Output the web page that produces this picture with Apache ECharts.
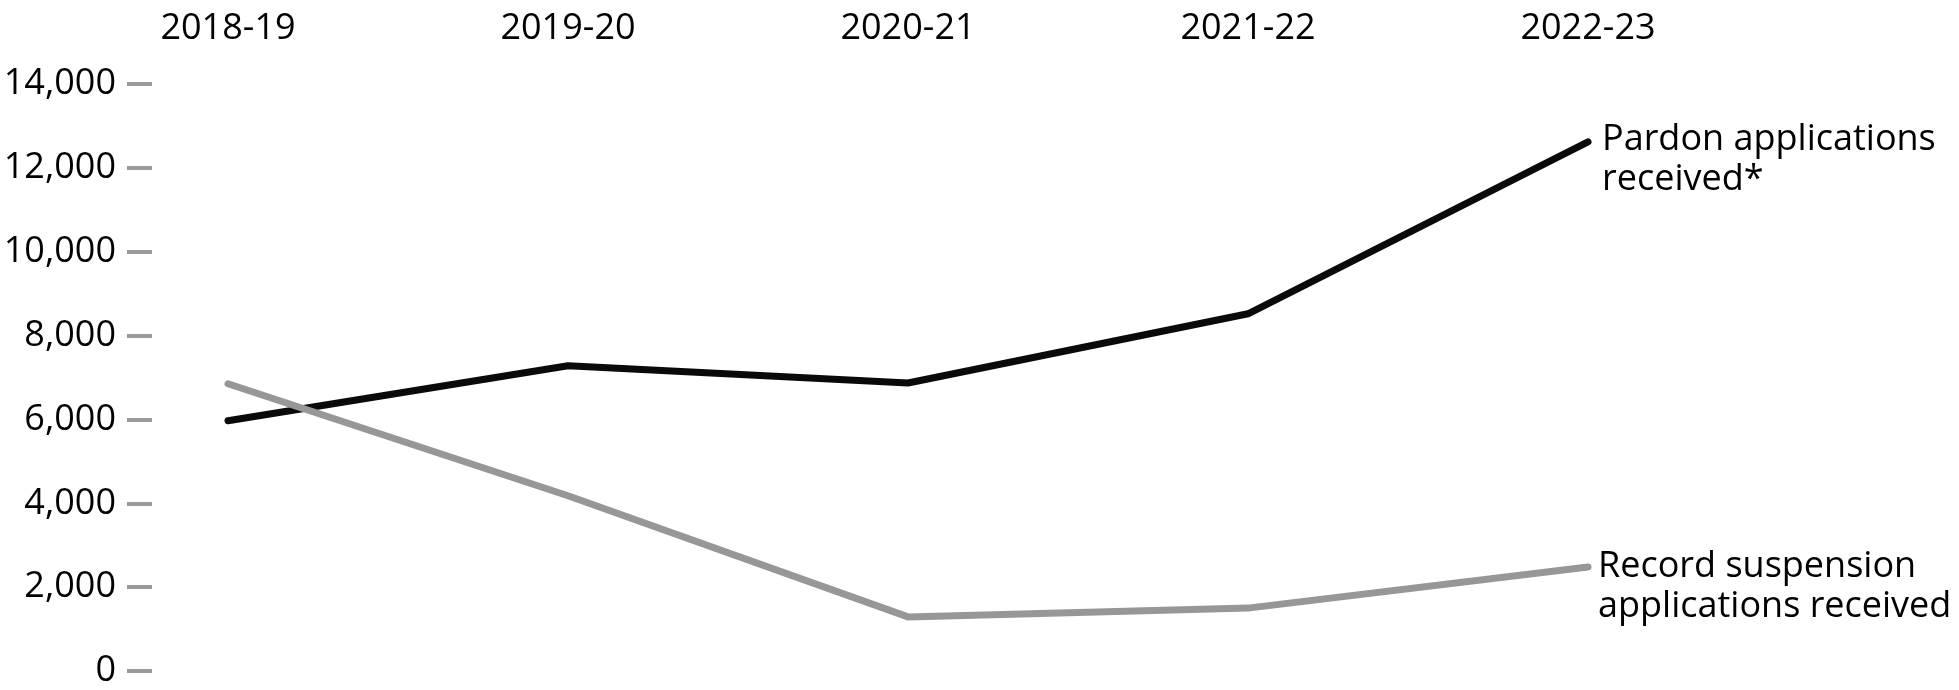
<!DOCTYPE html>
<html>
<head>
<meta charset="utf-8">
<script src="https://cdn.jsdelivr.net/npm/echarts@6/dist/echarts.min.js"></script>
<style>
  html, body { margin: 0; padding: 0; background: #fff; }
  #chart { width: 1959px; height: 690px; }
</style>
</head>
<body>
<div id="chart"></div>
<script>
const years = ['2018-19', '2019-20', '2020-21', '2021-22', '2022-23']
const pardonReceived = [5970, 7280, 6870, 8520, 12620]
const recordSuspension = [6850, 4180, 1290, 1500, 2480]
const yTicks = [0, 2000, 4000, 6000, 8000, 10000, 12000, 14000]

const font = '"Open Sans", "Noto Sans", sans-serif'

const chart = echarts.init(document.getElementById('chart'))

chart.setOption({
  animation: false,
  backgroundColor: '#ffffff',
  textStyle: { fontFamily: font },
  grid: { left: 228, right: 371, top: 84, bottom: 19 },
  xAxis: {
    type: 'category',
    position: 'top',
    boundaryGap: false,
    data: years,
    axisLine: { show: false },
    axisTick: { show: false },
    axisLabel: { color: '#000', fontSize: 36, fontFamily: font, margin: 37 }
  },
  yAxis: {
    type: 'value',
    min: yTicks[0],
    max: yTicks[yTicks.length - 1],
    interval: 2000,
    offset: 76,
    splitLine: { show: false },
    axisLine: { show: false },
    axisTick: { show: true, length: 25, lineStyle: { color: '#9a9a9a', width: 4 } },
    axisLabel: {
      color: '#000',
      fontSize: 36,
      fontFamily: font,
      margin: 36,
      formatter: v => v.toLocaleString('en-US')
    }
  },
  series: [
    {
      name: 'Pardon applications received*',
      type: 'line',
      data: pardonReceived,
      symbol: 'none',
      lineStyle: { color: '#0a0a0a', width: 7, cap: 'round', join: 'round' },
      endLabel: {
        show: true,
        formatter: 'Pardon applications\nreceived*',
        color: '#000',
        fontSize: 36,
        fontFamily: font,
        lineHeight: 40,
        align: 'left',
        verticalAlign: 'top',
        distance: 14,
        offset: [0, -22]
      }
    },
    {
      name: 'Record suspension applications received',
      type: 'line',
      data: recordSuspension,
      symbol: 'none',
      lineStyle: { color: '#979797', width: 7, cap: 'round', join: 'round' },
      endLabel: {
        show: true,
        formatter: 'Record suspension\napplications received',
        color: '#000',
        fontSize: 36,
        fontFamily: font,
        lineHeight: 40,
        align: 'left',
        verticalAlign: 'top',
        distance: 10,
        offset: [0, -20]
      }
    }
  ]
})
</script>
</body>
</html>
